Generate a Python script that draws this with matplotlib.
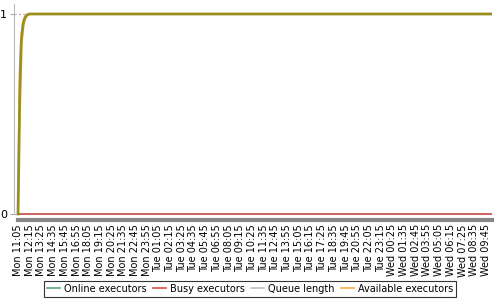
import matplotlib
matplotlib.use("Agg")
from matplotlib import pyplot as plt
from matplotlib.lines import Line2D

# tick labels, one every 7 samples (10 min each)
tick_labels = [
    "Mon 11:05", "Mon 12:15", "Mon 13:25", "Mon 14:35", "Mon 15:45", "Mon 16:55",
    "Mon 18:05", "Mon 19:15", "Mon 20:25", "Mon 21:35", "Mon 22:45", "Mon 23:55",
    "Tue 01:05", "Tue 02:15", "Tue 03:25", "Tue 04:35", "Tue 05:45", "Tue 06:55",
    "Tue 08:05", "Tue 09:15", "Tue 10:25", "Tue 11:35", "Tue 12:45", "Tue 13:55",
    "Tue 15:05", "Tue 16:15", "Tue 17:25", "Tue 18:35", "Tue 19:45", "Tue 20:55",
    "Tue 22:05", "Tue 23:15", "Wed 00:25", "Wed 01:35", "Wed 02:45", "Wed 03:55",
    "Wed 05:05", "Wed 06:15", "Wed 07:25", "Wed 08:35", "Wed 09:45",
]
tick_step = 7

online = [0.0, 0.55, 0.86, 0.94, 0.975, 0.99, 0.997] + [1.0] * 277
available = [0.0, 0.7, 0.9, 0.96, 0.985, 0.995, 1.0] + [1.0] * 277
busy = [0.0] * 284
queue = [0.0] * 284

n = len(online)
x = list(range(n))

c_online = "#5aa67a"
c_busy = "#d05050"
c_queue = "#c0c0c0"
c_avail = "#f5b041"

fig = plt.figure(figsize=(5, 3), dpi=100)
ax = fig.add_axes([0.028, 0.2667, 0.956, 0.72])

ax.plot(x, queue, color=c_queue, lw=1.2)
ax.plot(x, busy, color=c_busy, lw=1.2)
ax.plot(x, available, color="#f0a020", lw=1.5)
ax.plot(x, online, color="#8c8a18", lw=2, alpha=0.85)

ax.set_xlim(-2.4, n - 0.4)
ax.set_ylim(-0.03, 1.05)
ax.set_yticks([0, 1])
ax.set_yticklabels(["0", "1"])
ax.yaxis.grid(True, color="#aaaaaa", linestyle=(0, (2, 2)), lw=0.8)
ax.set_axisbelow(True)

ax.set_xticks(x[::tick_step])
ax.set_xticklabels(tick_labels, rotation=90, fontsize=7, va="top")
ax.tick_params(axis="x", length=0, pad=3)
ax.tick_params(axis="y", length=3, color="#aaaaaa", labelsize=8, pad=2)

ax.spines["top"].set_visible(False)
ax.spines["right"].set_visible(False)
ax.spines["left"].set_color("#bbbbbb")
ax.spines["left"].set_bounds(0, 1.05)
ax.spines["bottom"].set_color("#888888")
ax.spines["bottom"].set_linewidth(3)
ax.spines["bottom"].set_bounds(0, n - 0.4)

handles = [
    Line2D([], [], color=c_online, lw=1.2),
    Line2D([], [], color=c_busy, lw=1.2),
    Line2D([], [], color=c_queue, lw=1.2),
    Line2D([], [], color=c_avail, lw=1.2),
]
names = ["Online executors", "Busy executors", "Queue length", "Available executors"]
leg = fig.legend(handles, names, loc="center", bbox_to_anchor=(0.5, 0.037), ncol=4,
                 fontsize=7, frameon=True, fancybox=False, handlelength=1.4,
                 handletextpad=0.4, columnspacing=0.6, borderpad=0.3)
leg.get_frame().set_edgecolor("black")
leg.get_frame().set_linewidth(0.8)

fig.savefig("out.png", dpi=100)
